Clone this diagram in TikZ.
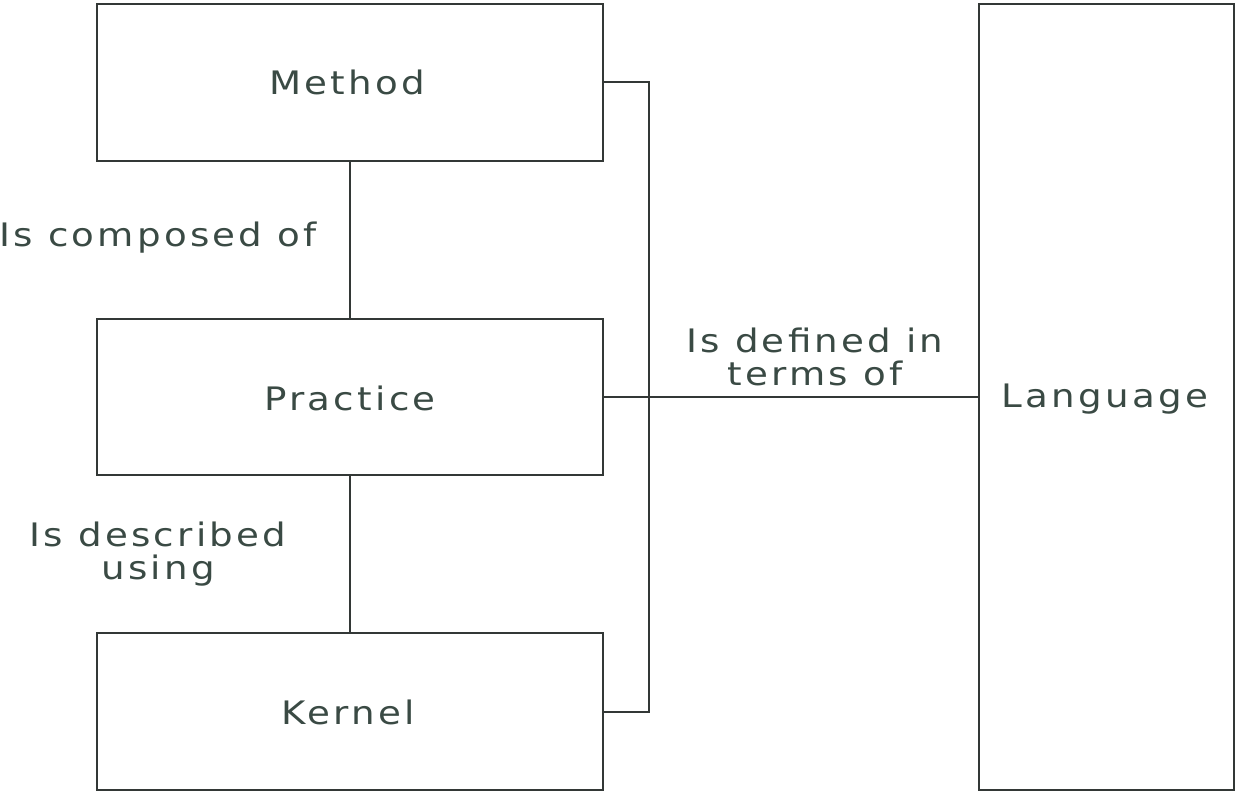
\documentclass[tikz,border=0pt]{standalone}
\usepackage{fontspec}
\setmainfont{DejaVu Sans}[LetterSpace=10,FakeStretch=1.15]
\begin{document}
\begin{tikzpicture}[x=0.025cm,y=-0.025cm,
  box/.style={draw=linecol,line width=1.4pt,inner sep=0pt},
  conn/.style={draw=linecol,line width=1.4pt},
  lbl/.style={text=txtcol,font=\fontsize{23}{23}\selectfont,align=center,inner sep=0pt}]
\definecolor{linecol}{HTML}{333836}
\definecolor{txtcol}{HTML}{3A4A44}
\useasboundingbox (0,0) rectangle (1248,797);
\node[box,minimum width=506*0.025cm,minimum height=157*0.025cm] (method) at (350,82.5) {};
\node[box,minimum width=506*0.025cm,minimum height=156*0.025cm] (practice) at (350,397) {};
\node[box,minimum width=506*0.025cm,minimum height=157*0.025cm] (kernel) at (350,711.5) {};
\node[box,minimum width=255*0.025cm,minimum height=786*0.025cm] (language) at (1106.5,397) {};
\node[lbl] (tm) at (347,82) {Method};
\node[lbl] (tp) at (350,398) {Practice};
\node[lbl] (tk) at (348,712) {Kernel};
\node[lbl] (tl) at (1105,399) {Language};
\node[lbl] (l1) at (158,238) {Is composed of};
\node[lbl] (l2) at (158,554) {Is described\\using};
\node[lbl] (l3) at (815,357) {Is defined in\\terms of};
\coordinate (bt) at (649,82);
\coordinate (bb) at (649,712);
\draw[conn] (method.south) -- (practice.north);
\draw[conn] (practice.south) -- (kernel.north);
\draw[conn] (method.east |- bt) -- (bt) -- (bb) -- (kernel.east |- bb);
\draw[conn] (practice.east) -- (language.west |- practice.east);
\end{tikzpicture}
\end{document}
